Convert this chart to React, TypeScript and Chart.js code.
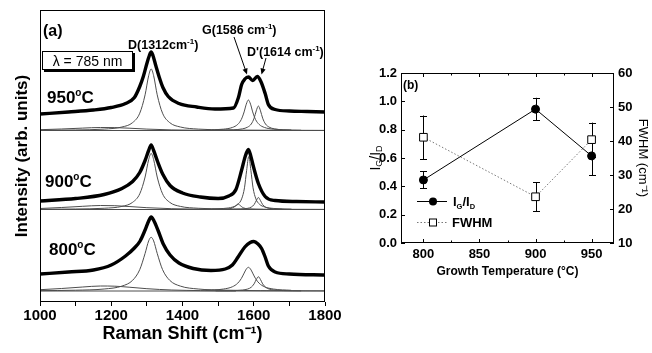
import React, { useEffect, useRef } from 'react';
import { Chart, registerables } from 'chart.js';

Chart.register(...registerables);

const FONT = '"Liberation Sans", Arial, Helvetica, sans-serif';

// ================= (a) Raman spectra =================
// Wavenumber ticks (cm-1); labels every 200
const ramanTicks = [1000, 1100, 1200, 1300, 1400, 1500, 1600, 1700, 1800];
// vertical stacking offsets (arb. units) for 800, 900, 950 °C
const stackOffsets = [11, 92.5, 171.5];
const stackTop = 292;

// measured spectra (thick), intensity above each trace's own fit baseline
const wnMeas950 = [1000, 1080, 1150, 1200, 1240, 1265, 1280, 1290, 1300, 1307, 1312, 1317, 1325, 1335, 1345, 1360, 1390, 1440, 1491, 1543, 1557, 1566, 1575, 1585, 1597, 1610, 1620, 1632, 1641, 1660, 1700, 1750, 1800];
const intMeas950 = [16.5, 18.5, 20.5, 23, 27, 33, 44, 54, 67, 75, 78.5, 75, 65, 53, 43, 34, 27, 23.5, 21.5, 22.5, 33, 46, 51.5, 53.5, 50, 54, 49, 37, 26, 21, 19.5, 19, 18.5];
const wnMeas900 = [1000, 1100, 1180, 1230, 1260, 1280, 1295, 1305, 1312, 1319, 1330, 1345, 1365, 1400, 1450, 1500, 1530, 1550, 1566, 1576, 1585, 1592, 1599, 1613, 1632, 1660, 1720, 1800];
const intMeas900 = [8.5, 11, 15, 21, 28, 37, 49, 59, 64.5, 59, 48, 35, 24, 16.5, 12.5, 11, 13.5, 20, 39.5, 53, 60, 53, 43, 26, 13, 9, 8, 7.5];
const wnMeas800 = [1000, 1080, 1150, 1200, 1240, 1265, 1281, 1295, 1305, 1312, 1320, 1332, 1346, 1365, 1390, 1430, 1480, 1520, 1540, 1556, 1575, 1590, 1600, 1612, 1622, 1632, 1641, 1660, 1700, 1800];
const intMeas800 = [17, 19, 21, 26, 35, 43, 50, 61, 70, 74, 70, 60, 47, 36, 28, 22.5, 20.5, 22, 26, 34, 44, 48.5, 49.5, 47, 42.5, 34, 25, 19, 17, 16];

// fitted D band
const wnFitD = [1000, 1100, 1180, 1230, 1260, 1280, 1295, 1305, 1312, 1319, 1329, 1344, 1364, 1394, 1444, 1520, 1620, 1800];
const fitD950 = [0.25, 0.54, 1.4, 3.5, 7.9, 17.3, 35.7, 54.8, 61.5, 54.8, 35.7, 17.3, 7.9, 3.5, 1.4, 0.6, 0.3, 0.1];
const fitD900 = [0.23, 0.49, 1.25, 3.1, 7.2, 15.7, 32.5, 49.9, 56, 49.9, 32.5, 15.7, 7.2, 3.1, 1.25, 0.5, 0.24, 0.1];
const fitD800 = [0.37, 0.79, 2.0, 4.9, 10.7, 21.4, 37.6, 50.1, 53.7, 50.1, 37.6, 21.4, 10.7, 4.9, 2.0, 0.83, 0.38, 0.15];

// fitted G band
const wnFitG = [1465, 1515, 1540, 1555, 1565, 1573, 1579, 1585, 1591, 1597, 1605, 1615, 1630, 1655, 1705];
const fitG950 = [0.47, 1.34, 3.05, 6.1, 11, 18.6, 26.3, 30.5, 26.3, 18.6, 11, 6.1, 3.05, 1.34, 0.47];
const fitG800 = [0.7, 1.96, 4.24, 7.8, 12.4, 17.9, 21.9, 23.7, 21.9, 17.9, 12.4, 7.8, 4.24, 1.96, 0.7];
const wnFitG900 = [1466, 1516, 1541, 1556, 1566, 1574, 1580, 1586, 1592, 1598, 1606, 1616, 1631, 1656, 1706];
const fitG900 = [0.37, 1.06, 2.5, 5.3, 10.6, 21.7, 39, 53, 39, 21.7, 10.6, 5.3, 2.5, 1.06, 0.37];

// fitted D' band
const wnFitDp = [1493, 1543, 1568, 1583, 1593, 1601, 1607, 1613, 1619, 1625, 1633, 1643, 1658, 1683, 1733];
const fitDp950 = [0.24, 0.7, 1.63, 3.4, 6.5, 12.3, 19.6, 24.5, 19.6, 12.3, 6.5, 3.4, 1.63, 0.7, 0.24];
const fitDp800 = [0.14, 0.41, 0.95, 1.97, 3.8, 7.15, 11.4, 14.3, 11.4, 7.15, 3.8, 1.97, 0.95, 0.41, 0.14];
const wnFitDp900 = [1543, 1583, 1593, 1601, 1607, 1613, 1619, 1625, 1633, 1643, 1683];
const fitDp900 = [0.24, 1.2, 2.4, 4.9, 8.8, 12, 8.8, 4.9, 2.4, 1.2, 0.24];

// small extra component at 900 °C
const wnFitS900 = [1486, 1526, 1536, 1544, 1550, 1556, 1562, 1568, 1576, 1586, 1626];
const fitS900 = [0.11, 0.55, 1.1, 2.25, 4.0, 5.5, 4.0, 2.25, 1.1, 0.55, 0.11];

// broad background component
const wnFitBg = [1000, 1060, 1120, 1170, 1210, 1250, 1300, 1370, 1450, 1550];
const fitBg950 = [0.8, 1.5, 2.4, 3, 2.9, 2.3, 1.4, 0.6, 0.2, 0];
const fitBg900 = [1, 2, 3.2, 4, 3.8, 3, 1.8, 0.8, 0.3, 0];
const fitBg800 = [1.3, 2.5, 4, 5, 4.8, 3.8, 2.3, 1, 0.4, 0];

// flat fit baseline
const wnBase = [1000, 1800];
const baseLevel = [0, 0];

// ================= (b) I_G/I_D and FWHM vs growth temperature =================
const growthTemps = [800, 900, 950];
const ratioIGID = [0.445, 0.945, 0.615];
const ratioErr = [0.06, 0.08, 0.135];
const fwhmG = [41.1, 23.6, 40.4];
const fwhmErr = [6.4, 4.3, 5];
const tempTicks = [800, 850, 900, 950];
const tempMinorTicks = [825, 875, 925];
const ratioTicks = [0, 0.2, 0.4, 0.6, 0.8, 1.0, 1.2];
const fwhmTicks = [10, 20, 30, 40, 50, 60];

type Part = { t: string; size: number; bold?: boolean; dy?: number };

function richText(ctx: CanvasRenderingContext2D, parts: Part[], x: number, y: number, align: 'left' | 'center' = 'left') {
  let w = 0;
  for (const p of parts) {
    ctx.font = `${p.bold ? 'bold ' : ''}${p.size}px ${FONT}`;
    w += ctx.measureText(p.t).width;
  }
  let cx = align === 'center' ? x - w / 2 : x;
  ctx.textAlign = 'left';
  for (const p of parts) {
    ctx.font = `${p.bold ? 'bold ' : ''}${p.size}px ${FONT}`;
    ctx.fillText(p.t, cx, y + (p.dy || 0));
    cx += ctx.measureText(p.t).width;
  }
}

function arrow(ctx: CanvasRenderingContext2D, x1: number, y1: number, x2: number, y2: number) {
  const a = Math.atan2(y2 - y1, x2 - x1);
  const L = 6, W = 2.6;
  ctx.beginPath();
  ctx.moveTo(x1, y1);
  ctx.lineTo(x2 - L * 0.7 * Math.cos(a), y2 - L * 0.7 * Math.sin(a));
  ctx.stroke();
  ctx.beginPath();
  ctx.moveTo(x2, y2);
  ctx.lineTo(x2 - L * Math.cos(a) + W * Math.sin(a), y2 - L * Math.sin(a) - W * Math.cos(a));
  ctx.lineTo(x2 - L * Math.cos(a) - W * Math.sin(a), y2 - L * Math.sin(a) + W * Math.cos(a));
  ctx.closePath();
  ctx.fill();
}

const panelAPlugin = {
  id: 'panelA',
  afterDraw(chart: any) {
    const { ctx, chartArea: ca } = chart;
    ctx.save();
    ctx.strokeStyle = '#000';
    ctx.lineWidth = 1;
    ctx.strokeRect(ca.left + 0.5, ca.top + 0.5, ca.right - ca.left - 1, ca.bottom - ca.top - 1);
    ctx.fillStyle = '#000';
    ctx.textBaseline = 'alphabetic';
    const L = ca.left, T = ca.top;
    richText(ctx, [{ t: '(a)', size: 16, bold: true }], L + 3, T + 26);
    // wavelength box with shadow
    ctx.fillStyle = '#000';
    ctx.fillRect(L + 4, T + 43, 91, 19);
    ctx.fillStyle = '#fff';
    ctx.fillRect(L + 2, T + 41, 91, 19);
    ctx.strokeRect(L + 2.5, T + 41.5, 90, 18);
    ctx.fillStyle = '#000';
    richText(ctx, [{ t: '\u03bb = 785 nm', size: 14 }], L + 47.5, T + 55.5, 'center');
    // temperatures
    const tl = (s: string, x: number, y: number) =>
      richText(ctx, [{ t: s, size: 17, bold: true }, { t: 'o', size: 10, bold: true, dy: -7 }, { t: 'C', size: 17, bold: true }], x, y);
    tl('950', L + 7, T + 93);
    tl('900', L + 5, T + 177);
    tl('800', L + 9, T + 245);
    // peak labels
    const fs = 12.5;
    richText(ctx, [{ t: 'D(1312cm', size: fs, bold: true }, { t: '-1', size: 8, bold: true, dy: -5 }, { t: ')', size: fs, bold: true }], L + 88, T + 39);
    richText(ctx, [{ t: 'G(1586 cm', size: fs, bold: true }, { t: '-1', size: 8, bold: true, dy: -5 }, { t: ')', size: fs, bold: true }], L + 162, T + 24);
    richText(ctx, [{ t: "D'(1614 cm", size: fs, bold: true }, { t: '-1', size: 8, bold: true, dy: -5 }, { t: ')', size: fs, bold: true }], L + 207, T + 46);
    ctx.lineWidth = 1;
    arrow(ctx, L + 194, T + 27, L + 207, T + 64.5);
    arrow(ctx, L + 226, T + 48, L + 221.5, T + 64.5);
    ctx.restore();
  },
};

const panelBPlugin = {
  id: 'panelB',
  beforeDatasetsDraw(chart: any) {
    const { ctx, scales } = chart;
    const xs = scales.x;
    ctx.save();
    ctx.strokeStyle = '#000';
    ctx.lineWidth = 1;
    const bars = (s: any, v: number[], e: number[]) => {
      growthTemps.forEach((t, i) => {
        const x = Math.round(xs.getPixelForValue(t)) + 0.5;
        const y1 = s.getPixelForValue(v[i] + e[i]);
        const y2 = s.getPixelForValue(v[i] - e[i]);
        ctx.beginPath();
        ctx.moveTo(x, y1); ctx.lineTo(x, y2);
        ctx.moveTo(x - 3.5, Math.round(y1) + 0.5); ctx.lineTo(x + 3.5, Math.round(y1) + 0.5);
        ctx.moveTo(x - 3.5, Math.round(y2) + 0.5); ctx.lineTo(x + 3.5, Math.round(y2) + 0.5);
        ctx.stroke();
      });
    };
    bars(scales.y, ratioIGID, ratioErr);
    bars(scales.y1, fwhmG, fwhmErr);
    ctx.restore();
  },
  afterDraw(chart: any) {
    const { ctx, chartArea: ca, scales } = chart;
    ctx.save();
    ctx.strokeStyle = '#000';
    ctx.fillStyle = '#000';
    ctx.lineWidth = 1;
    ctx.strokeRect(ca.left + 0.5, ca.top + 0.5, ca.right - ca.left - 1, ca.bottom - ca.top - 1);
    // inside ticks
    ctx.beginPath();
    const vt = (v: number, len: number) => {
      const x = Math.round(scales.x.getPixelForValue(v)) + 0.5;
      ctx.moveTo(x, ca.bottom); ctx.lineTo(x, ca.bottom - len);
      ctx.moveTo(x, ca.top); ctx.lineTo(x, ca.top + len);
    };
    tempTicks.forEach((v) => vt(v, 4));
    tempMinorTicks.forEach((v) => vt(v, 2.5));
    ratioTicks.forEach((v) => {
      const y = Math.round(scales.y.getPixelForValue(v)) + 0.5;
      ctx.moveTo(ca.left, y); ctx.lineTo(ca.left + 4, y);
    });
    fwhmTicks.forEach((v) => {
      const y = Math.round(scales.y1.getPixelForValue(v)) + 0.5;
      ctx.moveTo(ca.right, y); ctx.lineTo(ca.right - 4, y);
    });
    ctx.stroke();
    ctx.textBaseline = 'alphabetic';
    richText(ctx, [{ t: '(b)', size: 12, bold: true }], ca.left + 2, ca.top + 16);
    // left axis title I_G/I_D
    ctx.save();
    ctx.translate(21, (ca.top + ca.bottom) / 2);
    ctx.rotate(-Math.PI / 2);
    ctx.textBaseline = 'middle';
    richText(ctx, [{ t: 'I', size: 14 }, { t: 'G', size: 9, dy: 4 }, { t: '/I', size: 14 }, { t: 'D', size: 9, dy: 4 }], 0, 0, 'center');
    ctx.restore();
    // legend
    const lx = ca.left + 16, y1 = ca.top + 128, y2 = ca.top + 149;
    ctx.beginPath();
    ctx.moveTo(lx, y1 + 0.5); ctx.lineTo(lx + 30, y1 + 0.5);
    ctx.stroke();
    ctx.beginPath();
    ctx.arc(lx + 16, y1 + 0.5, 4, 0, Math.PI * 2);
    ctx.fill();
    ctx.save();
    ctx.strokeStyle = '#777';
    ctx.setLineDash([1.5, 2]);
    ctx.beginPath();
    ctx.moveTo(lx, y2 + 0.5); ctx.lineTo(lx + 30, y2 + 0.5);
    ctx.stroke();
    ctx.restore();
    ctx.fillStyle = '#fff';
    ctx.fillRect(lx + 12, y2 - 3.5, 8, 8);
    ctx.strokeRect(lx + 12.5, y2 - 3, 7, 7);
    ctx.fillStyle = '#000';
    richText(ctx, [{ t: 'I', size: 13, bold: true }, { t: 'G', size: 7.5, bold: true, dy: 3 }, { t: '/I', size: 13, bold: true }, { t: 'D', size: 7.5, bold: true, dy: 3 }], lx + 36, y1 + 5);
    richText(ctx, [{ t: 'FWHM', size: 13, bold: true }], lx + 35, y2 + 5);
    ctx.restore();
  },
};

export default function App() {
  const refA = useRef<HTMLCanvasElement>(null);
  const refB = useRef<HTMLCanvasElement>(null);

  useEffect(() => {
    Chart.defaults.font.family = FONT;
    Chart.defaults.color = '#000';

    const line = (wn: number[], vals: number[], off: number, thick: boolean) => ({
      data: wn.map((x, i) => ({ x, y: vals[i] + off })),
      borderColor: thick ? '#000' : '#4d4d4d',
      borderWidth: thick ? 3.4 : 1,
      pointRadius: 0,
      cubicInterpolationMode: 'monotone' as const,
      fill: false,
    });
    const [o800, o900, o950] = stackOffsets;
    const dsA = [
      line(wnMeas950, intMeas950, o950, true),
      line(wnMeas900, intMeas900, o900, true),
      line(wnMeas800, intMeas800, o800, true),
      line(wnFitD, fitD950, o950, false),
      line(wnFitG, fitG950, o950, false),
      line(wnFitDp, fitDp950, o950, false),
      line(wnFitBg, fitBg950, o950, false),
      line(wnBase, baseLevel, o950, false),
      line(wnFitD, fitD900, o900, false),
      line(wnFitG900, fitG900, o900, false),
      line(wnFitS900, fitS900, o900, false),
      line(wnFitDp900, fitDp900, o900, false),
      line(wnFitBg, fitBg900, o900, false),
      line(wnBase, baseLevel, o900, false),
      line(wnFitD, fitD800, o800, false),
      line(wnFitG, fitG800, o800, false),
      line(wnFitDp, fitDp800, o800, false),
      line(wnFitBg, fitBg800, o800, false),
      line(wnBase, baseLevel, o800, false),
    ];

    const chartA = new Chart(refA.current!, {
      type: 'line',
      data: { datasets: dsA as any },
      options: {
        responsive: false,
        animation: false,
        events: [],
        layout: { padding: { top: 10, right: 20, left: 0, bottom: 0 } },
        plugins: { legend: { display: false }, tooltip: { enabled: false } },
        scales: {
          x: {
            type: 'linear',
            min: 1000,
            max: 1800,
            afterBuildTicks: (s: any) => { s.ticks = ramanTicks.map((v) => ({ value: v })); },
            afterFit: (s: any) => { s.height = 51; },
            ticks: {
              autoSkip: false,
              maxRotation: 0,
              minRotation: 0,
              padding: 1,
              font: { size: 15, weight: 'bold' },
              color: '#000',
              callback: (v: any) => (Number(v) % 200 === 0 ? String(v) : ''),
            },
            grid: { display: true, drawOnChartArea: false, drawTicks: true, tickLength: 4, color: '#000' },
            border: { display: false },
            title: { display: true, text: 'Raman Shift (cm\u207b\u00b9)', font: { size: 18, weight: 'bold' }, color: '#000', padding: { top: 0, bottom: 8 } },
          },
          y: {
            type: 'linear',
            min: 0,
            max: stackTop,
            afterFit: (s: any) => { s.width = 40; },
            ticks: { display: false },
            grid: { display: false, drawTicks: false },
            border: { display: false },
            title: { display: true, text: 'Intensity (arb. units)', font: { size: 17, weight: 'bold' }, color: '#000', padding: { top: 12, bottom: 0 } },
          },
        },
      },
      plugins: [panelAPlugin],
    });

    const chartB = new Chart(refB.current!, {
      type: 'line',
      data: {
        datasets: [
          {
            data: growthTemps.map((x, i) => ({ x, y: ratioIGID[i] })),
            yAxisID: 'y',
            borderColor: '#000',
            borderWidth: 1,
            pointStyle: 'circle',
            pointRadius: 4,
            pointBackgroundColor: '#000',
            pointBorderColor: '#000',
            tension: 0,
          },
          {
            data: growthTemps.map((x, i) => ({ x, y: fwhmG[i] })),
            yAxisID: 'y1',
            borderColor: '#777',
            borderDash: [1.5, 2],
            borderWidth: 1,
            pointStyle: 'rect',
            pointRadius: 5.4,
            pointBackgroundColor: '#fff',
            pointBorderColor: '#000',
            pointBorderWidth: 1,
            tension: 0,
          },
        ] as any,
      },
      options: {
        responsive: false,
        animation: false,
        events: [],
        layout: { padding: { top: 23, right: 0, left: 0, bottom: 0 } },
        plugins: { legend: { display: false }, tooltip: { enabled: false } },
        scales: {
          x: {
            type: 'linear',
            min: 780,
            max: 970,
            afterBuildTicks: (s: any) => { s.ticks = tempTicks.map((v) => ({ value: v })); },
            afterFit: (s: any) => { s.height = 57; },
            ticks: { autoSkip: false, maxRotation: 0, padding: 4, font: { size: 13, weight: 'bold' }, color: '#000' },
            grid: { display: false, drawTicks: false, tickLength: 0 },
            border: { display: false },
            title: { display: true, text: 'Growth Temperature (\u00b0C)', font: { size: 12, weight: 'bold' }, color: '#000', padding: { top: 0, bottom: 21 } },
          },
          y: {
            type: 'linear',
            position: 'left',
            min: 0,
            max: 1.2,
            afterBuildTicks: (s: any) => { s.ticks = ratioTicks.map((v) => ({ value: v })); },
            afterFit: (s: any) => { s.width = 46; },
            ticks: { padding: 4, font: { size: 13, weight: 'bold' }, color: '#000', callback: (v: any) => Number(v).toFixed(1) },
            grid: { display: false, drawTicks: false, tickLength: 0 },
            border: { display: false },
          },
          y1: {
            type: 'linear',
            position: 'right',
            min: 10,
            max: 60,
            afterBuildTicks: (s: any) => { s.ticks = fwhmTicks.map((v) => ({ value: v })); },
            afterFit: (s: any) => { s.width = 38; },
            ticks: { padding: 4, font: { size: 13, weight: 'bold' }, color: '#000' },
            grid: { display: false, drawTicks: false, tickLength: 0 },
            border: { display: false },
            title: { display: true, text: 'FWHM (cm\u207b\u00b9)', font: { size: 13 }, color: '#000', padding: { top: 2, bottom: 0 } },
          },
        },
      },
      plugins: [panelBPlugin],
    });

    return () => {
      chartA.destroy();
      chartB.destroy();
    };
  }, []);

  return (
    <div style={{ position: 'fixed', left: 0, top: 0, width: 652, height: 353, background: '#fff' }}>
      <canvas ref={refA} width={345} height={353} style={{ position: 'absolute', left: 0, top: 0 }} />
      <canvas ref={refB} width={297} height={250} style={{ position: 'absolute', left: 355, top: 50 }} />
    </div>
  );
}
